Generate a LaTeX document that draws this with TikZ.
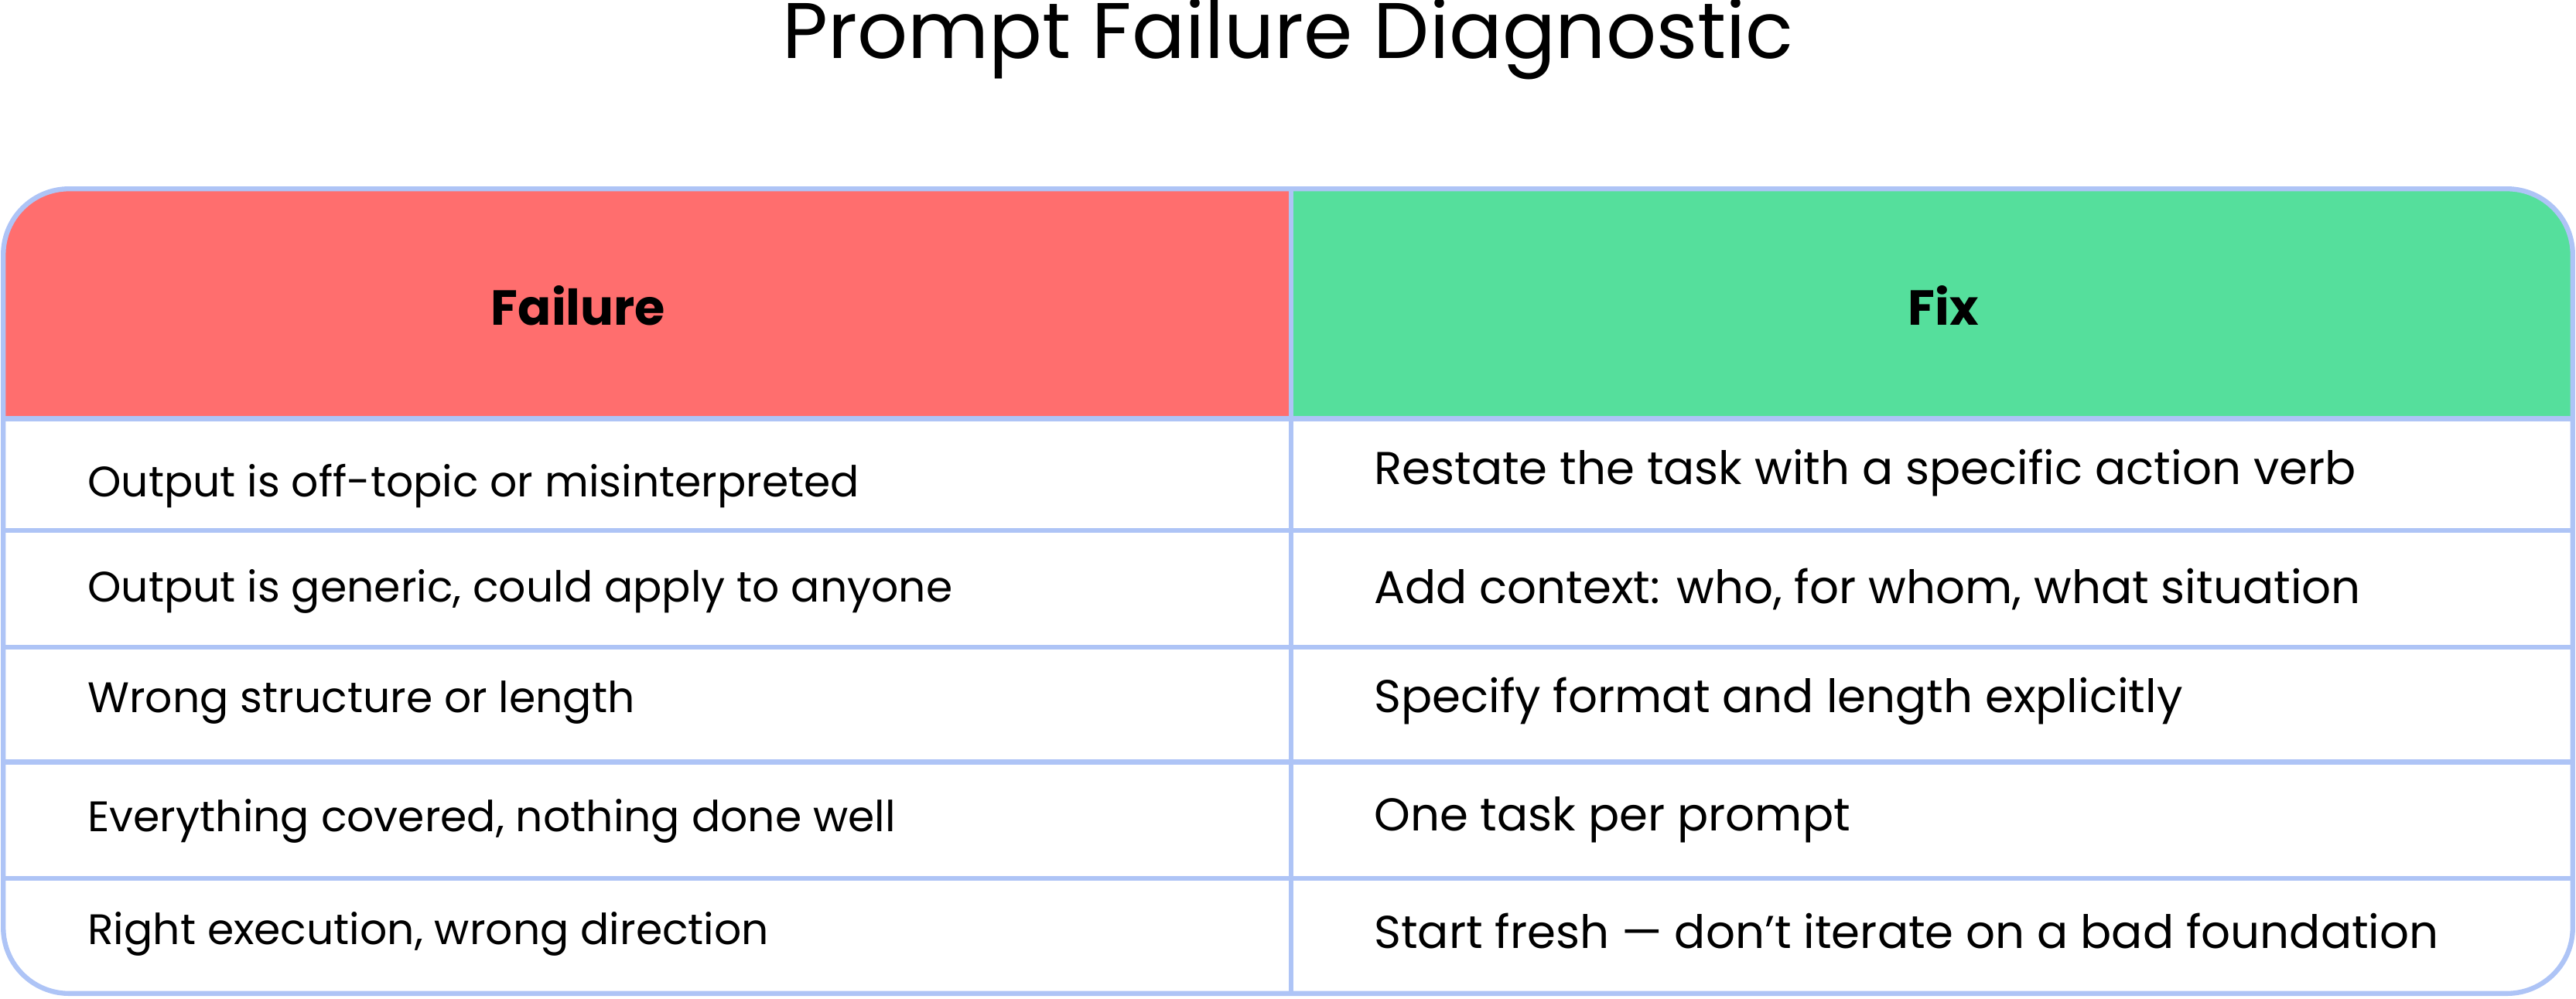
\documentclass[tikz,border=0pt]{standalone}
\usepackage{fontspec}
\setmainfont{Poppins}
\definecolor{hred}{HTML}{FF6E6E}
\definecolor{hgreen}{HTML}{55DF9C}
\definecolor{bline}{HTML}{AEC4F6}
\begin{document}
\begin{tikzpicture}[x=0.5pt,y=-0.5pt,
  cell/.style={anchor=west,inner sep=0pt,font=\fontsize{13}{15}\selectfont},
  cellr/.style={anchor=west,inner sep=0pt,font=\fontsize{14}{16}\selectfont},
  head/.style={inner sep=0pt,font=\bfseries\fontsize{15}{18}\selectfont}]
\useasboundingbox (0,0) rectangle (1568,608);
\begin{scope}
\clip[rounded corners=20] (2,115) rectangle (1566,605);
\fill[hred] (2,115) rectangle (786,255);
\fill[hgreen] (786,115) rectangle (1566,255);
\end{scope}
\draw[bline,line width=1.5] (786,115) -- (786,605);
\foreach \y in {255,323,394,464,535} \draw[bline,line width=1.5] (2,\y) -- (1566,\y);
\draw[bline,line width=1.5,rounded corners=20] (2,115) rectangle (1566,605);
\node[inner sep=0pt,font=\fontsize{24}{28}\selectfont] (title) at (784,24) {Prompt Failure Diagnostic};
\node[head] (h1) at (352,186) {Failure};
\node[head] (h2) at (1183,186) {Fix};
\node[cell] (l1) at (53,296) {Output is off-topic or misinterpreted};
\node[cell] (l2) at (53,360) {Output is generic, could apply to anyone};
\node[cell] (l3) at (53,428) {Wrong structure or length};
\node[cell] (l4) at (53,500) {Everything covered, nothing done well};
\node[cell] (l5) at (53,569) {Right execution, wrong direction};
\node[cellr] (r1) at (836,288) {Restate the task with a specific action verb};
\node[cellr] (r2) at (836,359) {Add context: who, for whom, what situation};
\node[cellr] (r3) at (836,427) {Specify format and length explicitly};
\node[cellr] (r4) at (836,499) {One task per prompt};
\node[cellr] (r5) at (836,567) {Start fresh — don't iterate on a bad foundation};
\end{tikzpicture}
\end{document}
